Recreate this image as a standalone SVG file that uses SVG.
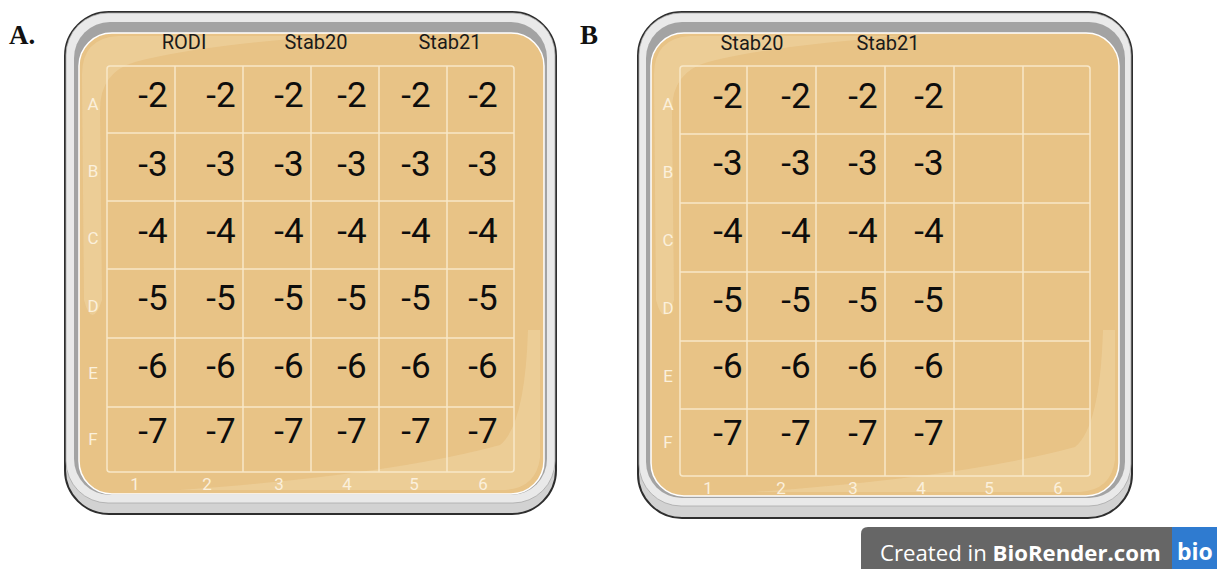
<svg xmlns="http://www.w3.org/2000/svg" width="1217" height="569" viewBox="0 0 1217 569">
<style>
.base{fill:#d2d2d2;stroke:#2e2e2e;stroke-width:2}
.rim{fill:#e9e9e9;stroke:#a9a9a9;stroke-width:0.8}
.dark{fill:#a3a3a3}
.agar{fill:#e8c386;stroke:#ffffff;stroke-width:1.5}
.hl{fill:#f2dcb0;opacity:0.4}
.grid{fill:none;stroke:#f8e8c8;stroke-width:1.5}
.num{font-family:Roboto,"Liberation Sans",sans-serif;font-size:35px;fill:#0d0d0d;text-anchor:middle}
.hdr{font-family:Roboto,"Liberation Sans",sans-serif;font-size:20px;fill:#1a1a1a;text-anchor:middle}
.lbl{font-family:Roboto,"Liberation Sans",sans-serif;font-size:17px;fill:#fbf0dc;text-anchor:middle}
.panel{font-family:"Liberation Serif",serif;font-size:27px;font-weight:bold;fill:#111}
</style>

<text class="panel" x="9" y="44">A.</text>
<text class="panel" x="580" y="44">B</text>

<g id="plateA">
  <rect class="base" x="65" y="12" width="491" height="502" rx="44"/>
  <rect class="rim" x="66" y="13" width="489" height="490" rx="42"/>
  <rect class="dark" x="74" y="22" width="473" height="473" rx="36"/>
  <rect class="agar" x="79" y="33" width="465" height="461" rx="33"/>
  <path class="hl" d="M82,75 Q82,38 118,36 L330,36 Q200,45 135,62 Q100,72 100,110 L102,300 Q92,330 84,300 Z"/>
  <path class="hl" d="M540,330 L540,458 Q536,488 505,490 L180,490 Q390,475 500,445 Q525,425 528,330 Z"/>
  <rect class="grid" x="107" y="66" width="407" height="406" rx="3"/>
  <path class="grid" d="M175,66V472M243,66V472M311,66V472M379,66V472M447,66V472M107,133H514M107,201H514M107,269H514M107,338H514M107,407H514"/>
  <text class="hdr" x="184" y="49">RODI</text>
  <text class="hdr" x="316" y="49">Stab20</text>
  <text class="hdr" x="450" y="49">Stab21</text>
  <g class="lbl">
    <text x="93" y="110">A</text><text x="93" y="177">B</text><text x="93" y="244">C</text>
    <text x="93" y="312">D</text><text x="93" y="379">E</text><text x="93" y="445">F</text>
    <text x="135" y="490">1</text><text x="207" y="490">2</text><text x="279" y="490">3</text>
    <text x="347" y="490">4</text><text x="414" y="490">5</text><text x="483" y="490">6</text>
  </g>
  <g class="num">
    <text x="153" y="107">-2</text><text x="221" y="107">-2</text><text x="289" y="107">-2</text><text x="352" y="107">-2</text><text x="416" y="107">-2</text><text x="483" y="107">-2</text>
    <text x="153" y="176">-3</text><text x="221" y="176">-3</text><text x="289" y="176">-3</text><text x="352" y="176">-3</text><text x="416" y="176">-3</text><text x="483" y="176">-3</text>
    <text x="153" y="243">-4</text><text x="221" y="243">-4</text><text x="289" y="243">-4</text><text x="352" y="243">-4</text><text x="416" y="243">-4</text><text x="483" y="243">-4</text>
    <text x="153" y="310">-5</text><text x="221" y="310">-5</text><text x="289" y="310">-5</text><text x="352" y="310">-5</text><text x="416" y="310">-5</text><text x="483" y="310">-5</text>
    <text x="153" y="378">-6</text><text x="221" y="378">-6</text><text x="289" y="378">-6</text><text x="352" y="378">-6</text><text x="416" y="378">-6</text><text x="483" y="378">-6</text>
    <text x="153" y="443">-7</text><text x="221" y="443">-7</text><text x="289" y="443">-7</text><text x="352" y="443">-7</text><text x="416" y="443">-7</text><text x="483" y="443">-7</text>
  </g>
</g>

<g id="plateB">
  <rect class="base" x="638" y="12" width="494" height="506" rx="44"/>
  <rect class="rim" x="639" y="13" width="492" height="493" rx="42"/>
  <rect class="dark" x="646" y="22" width="479" height="476" rx="36"/>
  <rect class="agar" x="651" y="33" width="468" height="463" rx="33"/>
  <path class="hl" d="M654,75 Q654,38 690,36 L905,36 Q775,45 708,62 Q672,72 672,110 L674,300 Q664,330 656,300 Z"/>
  <path class="hl" d="M1115,330 L1115,460 Q1111,490 1080,492 L755,492 Q965,477 1075,447 Q1100,427 1103,330 Z"/>
  <rect class="grid" x="680" y="66" width="410" height="410" rx="3"/>
  <path class="grid" d="M747,66V476M816,66V476M885,66V476M954,66V476M1023,66V476M680,134H1090M680,203H1090M680,272H1090M680,341H1090M680,409H1090"/>
  <text class="hdr" x="752" y="50">Stab20</text>
  <text class="hdr" x="888" y="50">Stab21</text>
  <g class="lbl">
    <text x="668" y="110">A</text><text x="668" y="178">B</text><text x="668" y="246">C</text>
    <text x="668" y="314">D</text><text x="668" y="382">E</text><text x="668" y="448">F</text>
    <text x="708" y="494">1</text><text x="781" y="494">2</text><text x="853" y="494">3</text>
    <text x="921" y="494">4</text><text x="989" y="494">5</text><text x="1058" y="494">6</text>
  </g>
  <g class="num">
    <text x="728" y="108">-2</text><text x="796" y="108">-2</text><text x="863" y="108">-2</text><text x="929" y="108">-2</text>
    <text x="728" y="175">-3</text><text x="796" y="175">-3</text><text x="863" y="175">-3</text><text x="929" y="175">-3</text>
    <text x="728" y="243">-4</text><text x="796" y="243">-4</text><text x="863" y="243">-4</text><text x="929" y="243">-4</text>
    <text x="728" y="312">-5</text><text x="796" y="312">-5</text><text x="863" y="312">-5</text><text x="929" y="312">-5</text>
    <text x="728" y="378">-6</text><text x="796" y="378">-6</text><text x="863" y="378">-6</text><text x="929" y="378">-6</text>
    <text x="728" y="445">-7</text><text x="796" y="445">-7</text><text x="863" y="445">-7</text><text x="929" y="445">-7</text>
  </g>
</g>

<g id="watermark">
  <path d="M861,569 V534 Q861,527 868,527 H1172 V569 Z" fill="#666666"/>
  <rect x="1172" y="527" width="45" height="42" fill="#2f7bd0"/>
  <text x="880" y="561" font-family="'Open Sans','Noto Sans',sans-serif" font-size="22.2" fill="#ffffff">Created in <tspan font-weight="bold">BioRender.com</tspan></text>
  <text x="1177" y="560" font-family="'Open Sans','Noto Sans',sans-serif" font-size="23" font-weight="bold" fill="#ffffff">bio</text>
</g>
</svg>
